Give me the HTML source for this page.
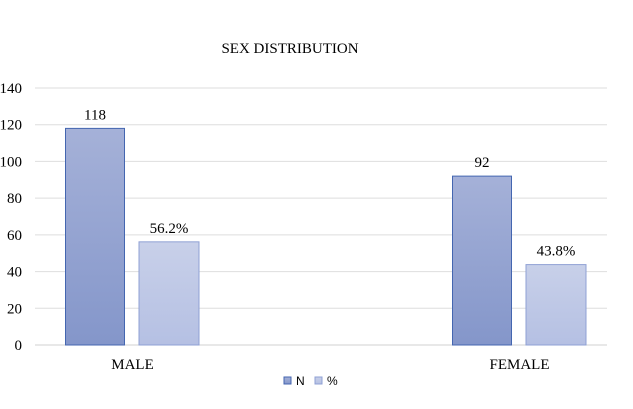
<!DOCTYPE html>
<html><head><meta charset="utf-8"><style>
body{margin:0;background:#fff}
svg text{font-family:"Liberation Serif",serif;fill:#000}
</style></head><body>
<svg width="633" height="404">
<defs>
<linearGradient id="gN" x1="0" y1="0" x2="0" y2="1"><stop offset="0" stop-color="#a5b1d8"/><stop offset="1" stop-color="#8496ca"/></linearGradient>
<linearGradient id="gP" x1="0" y1="0" x2="0" y2="1"><stop offset="0" stop-color="#c8d0e9"/><stop offset="1" stop-color="#b5c0e3"/></linearGradient>
</defs>
<text x="290" y="53" font-size="15" text-anchor="middle">SEX DISTRIBUTION</text>
<g id="grid"></g><g id="bars"></g>
<g>
<rect x="284" y="377" width="7" height="7" fill="url(#gN)" stroke="#4466b0" stroke-width="1"/>
<text x="296" y="385" font-size="12" style="font-family:'Liberation Sans',sans-serif">N</text>
<rect x="315" y="377" width="7" height="7" fill="url(#gP)" stroke="#8fa0d4" stroke-width="1"/>
<text x="327" y="385" font-size="12" style="font-family:'Liberation Sans',sans-serif">%</text>
</g>
</svg>
<script>
const categories=["MALE","FEMALE"];
const nValues=[118,92];
const pctValues=[56.2,43.8];
const pctLabels=["56.2%","43.8%"];
const yTicks=[0,20,40,60,80,100,120,140];
const NS="http://www.w3.org/2000/svg";
const y0=345,yTop=88,x0=35,x1=607;
const y=v=>y0-(v/140)*(y0-yTop);
const xc=i=>132.5+i*387;
function mk(tag,attrs,parent){const e=document.createElementNS(NS,tag);for(const k in attrs)e.setAttribute(k,attrs[k]);parent.appendChild(e);return e;}
const grid=document.getElementById('grid'),bars=document.getElementById('bars');
yTicks.forEach(t=>{
 const l=mk('line',{x1:x0,x2:x1,y1:y(t),y2:y(t),stroke:t===0?'#d0d0d0':'#dedede','stroke-width':1},grid);
 
 
 const tx=mk('text',{x:22,y:y(t)+5,'font-size':15,'text-anchor':'end'},grid);
 tx.textContent=t;
 
 
});
categories.forEach((c,i)=>{
 const bw=59;
 const bn=mk('rect',{x:xc(i)-67,y:y(nValues[i]),width:bw,height:y0-y(nValues[i]),fill:'url(#gN)',stroke:'#4466b0','stroke-width':1},bars);
 
 
 const bp=mk('rect',{x:xc(i)+6.5,y:y(pctValues[i]),width:bw+1,height:y0-y(pctValues[i]),fill:'url(#gP)',stroke:'#8fa0d4','stroke-width':1},bars);
 
 
 const ln=mk('text',{x:xc(i)-37.5,y:y(nValues[i])-9,'font-size':15,'text-anchor':'middle'},bars);
 ln.textContent=nValues[i];
 
 
 const lp=mk('text',{x:xc(i)+36.5,y:y(pctValues[i])-9,'font-size':15,'text-anchor':'middle'},bars);
 lp.textContent=pctLabels[i];
 
 
 const cl=mk('text',{x:xc(i),y:369,'font-size':15,'text-anchor':'middle'},bars);
 cl.textContent=c;
 
 
});
</script>
</body></html>
